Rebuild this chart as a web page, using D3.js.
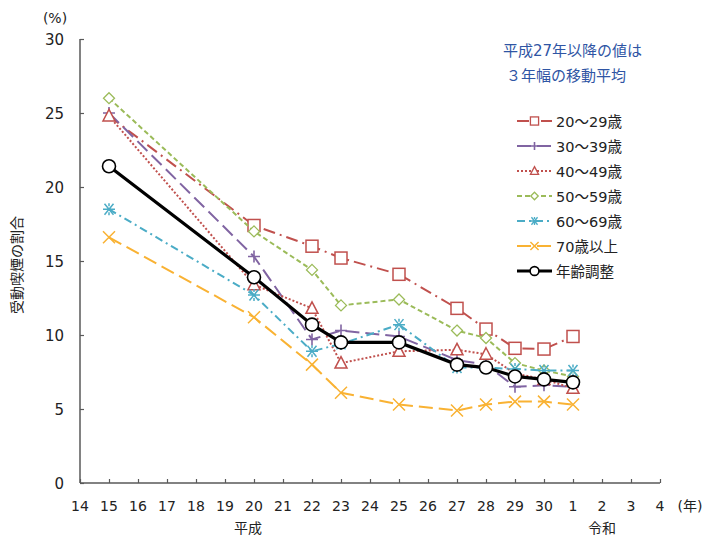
<!DOCTYPE html>
<html><head><meta charset="utf-8">
<script src="https://cdn.jsdelivr.net/npm/d3@7"></script>
<style>body{margin:0;background:#fff}svg{display:block}text{font-family:"DejaVu Sans","Noto Sans CJK JP",sans-serif}</style>
</head><body><svg id="c" width="708" height="536"></svg>
<script>
const xLabels = ["14","15","16","17","18","19","20","21","22","23","24","25","26","27","28","29","30","1","2","3","4"];
const dataYears = ["15","20","22","23","25","27","28","29","30","1"];
const yTicks = [0,5,10,15,20,25,30];
const age20 = [24.8,17.4,16.0,15.2,14.1,11.8,10.4,9.1,9.05,9.9];
const age30 = [25.0,15.3,9.7,10.3,9.9,8.3,8.0,6.5,6.6,6.5];
const age40 = [24.8,13.4,11.8,8.1,8.9,9.0,8.7,7.4,7.0,6.4];
const age50 = [26.0,17.0,14.4,12.0,12.4,10.3,9.8,8.1,7.6,7.2];
const age60 = [18.5,12.7,8.9,9.4,10.7,7.8,7.8,7.7,7.6,7.6];
const age70 = [16.6,11.2,8.0,6.1,5.3,4.9,5.3,5.5,5.5,5.3];
const adjusted = [21.4,13.9,10.7,9.5,9.5,8.0,7.8,7.2,7.0,6.8];
const seriesNames = ["20～29歳","30～39歳","40～49歳","50～59歳","60～69歳","70歳以上","年齢調整"];

const series = [
  {name:seriesNames[0], vals:age20, color:"#C0504D", dash:"12,5,2,5", w:2, marker:"square", skipFirst:true},
  {name:seriesNames[1], vals:age30, color:"#8064A2", dash:"14,6", w:2, marker:"plus"},
  {name:seriesNames[2], vals:age40, color:"#C0504D", dash:"2,2", w:2, marker:"triangle"},
  {name:seriesNames[3], vals:age50, color:"#9BBB59", dash:"5,3", w:2, marker:"diamond"},
  {name:seriesNames[4], vals:age60, color:"#4BACC6", dash:"8,4,2,4", w:2, marker:"asterisk"},
  {name:seriesNames[5], vals:age70, color:"#F9B233", dash:"14,6", w:2, marker:"x"},
  {name:seriesNames[6], vals:adjusted, color:"#000000", dash:null, w:3.2, marker:"circle"}
];

const svg = d3.select("#c");
const x = d3.scalePoint().domain(xLabels).range([80,660]);
const y = d3.scaleLinear().domain([0,30]).range([483,39]);
const axisColor = "#595959";

// y axis
const ya = svg.append("g").attr("transform","translate(80,0)")
  .call(d3.axisRight(y).tickValues(yTicks).tickSize(4).tickFormat(""));
ya.select(".domain").attr("stroke",axisColor).attr("stroke-width",1.5).attr("d","M0,483V39");
ya.selectAll(".tick line").attr("stroke",axisColor).attr("stroke-width",1.2);
svg.append("g").selectAll("text").data(yTicks).join("text")
  .attr("x",64).attr("y",d=>y(d)+6).attr("text-anchor","end")
  .attr("font-size",15).attr("fill","#222").text(d=>d);

// x axis
const xa = svg.append("g").attr("transform","translate(0,483)")
  .call(d3.axisTop(x).tickSize(4).tickFormat(""));
xa.select(".domain").attr("stroke",axisColor).attr("stroke-width",1.5).attr("d","M80,0H660");
xa.selectAll(".tick line").attr("stroke",axisColor).attr("stroke-width",1.2);
svg.append("g").selectAll("text").data(xLabels).join("text")
  .attr("x",d=>x(d)).attr("y",511).attr("text-anchor","middle")
  .attr("font-size",14).attr("fill","#222").text(d=>d);
svg.append("text").attr("x",690).attr("y",511).attr("text-anchor","middle").attr("font-size",14).attr("fill","#222").text("(年)");
svg.append("text").attr("x",x("20")-6).attr("y",533).attr("text-anchor","middle").attr("font-size",14).attr("fill","#222").text("平成");
svg.append("text").attr("x",x("2")).attr("y",533).attr("text-anchor","middle").attr("font-size",14).attr("fill","#222").text("令和");
svg.append("text").attr("x",55).attr("y",23).attr("text-anchor","middle").attr("font-size",14).attr("fill","#222").text("(%)");
svg.append("text").attr("transform","translate(22,265) rotate(-90)").attr("text-anchor","middle").attr("font-size",14).attr("fill","#222").text("受動喫煙の割合");

// annotation
svg.append("text").attr("x",503).attr("y",56).attr("font-size",15).attr("fill","#2F55A4").text("平成27年以降の値は");
svg.append("text").attr("x",506).attr("y",81).attr("font-size",15).attr("fill","#2F55A4").text("３年幅の移動平均");

function drawMarker(g, type, cx, cy, color, k){
  k = k || 1;
  const s = 6*k;
  const sw = k<1 ? 1.3 : 1.5;
  if(type==="square") g.append("rect").attr("x",cx-s).attr("y",cy-s).attr("width",2*s).attr("height",2*s).attr("fill","#fff").attr("stroke",color).attr("stroke-width",sw);
  else if(type==="plus") g.append("path").attr("d",`M${cx-s},${cy}H${cx+s}M${cx},${cy-s}V${cy+s}`).attr("stroke",color).attr("stroke-width",1.6).attr("fill","none");
  else if(type==="triangle") g.append("path").attr("d",`M${cx},${cy-6.5*k}L${cx+6*k},${cy+5*k}L${cx-6*k},${cy+5*k}Z`).attr("fill","#fff").attr("stroke",color).attr("stroke-width",sw);
  else if(type==="diamond") g.append("path").attr("d",`M${cx},${cy-5.5*k}L${cx+5.5*k},${cy}L${cx},${cy+5.5*k}L${cx-5.5*k},${cy}Z`).attr("fill","#fff").attr("stroke",color).attr("stroke-width",1.3);
  else if(type==="asterisk") g.append("path").attr("d",`M${cx-6*k},${cy}H${cx+6*k}M${cx-4.5*k},${cy-5.5*k}L${cx+4.5*k},${cy+5.5*k}M${cx+4.5*k},${cy-5.5*k}L${cx-4.5*k},${cy+5.5*k}M${cx},${cy-6*k}V${cy-3*k}M${cx},${cy+3*k}V${cy+6*k}`).attr("stroke",color).attr("stroke-width",sw).attr("fill","none");
  else if(type==="x") g.append("path").attr("d",`M${cx-s},${cy-s}L${cx+s},${cy+s}M${cx+s},${cy-s}L${cx-s},${cy+s}`).attr("stroke",color).attr("stroke-width",1.5).attr("fill","none");
  else if(type==="circle") g.append("circle").attr("cx",cx).attr("cy",cy).attr("r",6.5*k).attr("fill","#fff").attr("stroke",color).attr("stroke-width",1.6);
}

const line = d3.line().x(d=>x(d.k)).y(d=>y(d.v));
series.forEach(s=>{
  const pts = dataYears.map((k,i)=>({k, v:s.vals[i]}));
  const g = svg.append("g");
  g.append("path").attr("d",line(pts)).attr("fill","none").attr("stroke",s.color)
    .attr("stroke-width",s.w).attr("stroke-dasharray",s.dash);
  pts.forEach((p,i)=>{ if(!(s.skipFirst && i===0)) drawMarker(g, s.marker, x(p.k), y(p.v), s.color); });
});

// legend
series.forEach((s,i)=>{
  const ly = 121 + i*25;
  const g = svg.append("g");
  g.append("line").attr("x1",517).attr("x2",552).attr("y1",ly).attr("y2",ly)
    .attr("stroke",s.color).attr("stroke-width",s.w).attr("stroke-dasharray",s.dash);
  drawMarker(g, s.marker, 534.5, ly, s.color, 0.68);
  g.append("text").attr("x",556).attr("y",ly+5.5).attr("font-size",14.5).attr("fill","#222").text(s.name);
});
</script></body></html>
